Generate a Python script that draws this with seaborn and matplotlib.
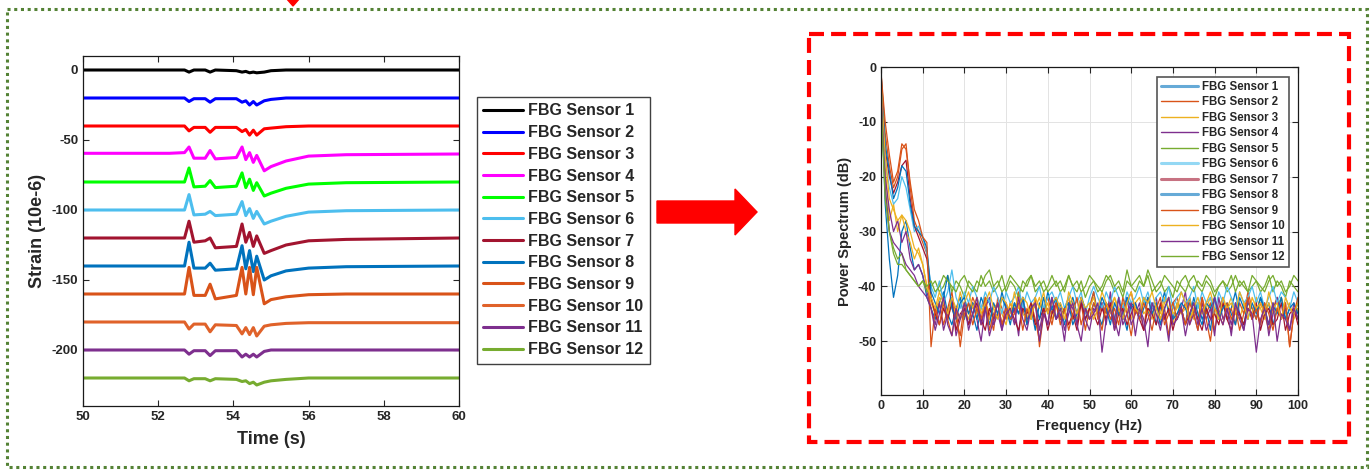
import numpy as np
import pandas as pd
import seaborn as sns
import matplotlib.pyplot as plt
from matplotlib.patches import Rectangle, Polygon
from matplotlib.lines import Line2D
import matplotlib.transforms as mtransforms

sns.set_style("ticks")
plt.rcParams['font.family'] = ['Liberation Sans', 'DejaVu Sans']
plt.rcParams['font.weight'] = 'bold'
plt.rcParams['axes.labelweight'] = 'bold'
plt.rcParams['axes.unicode_minus'] = False

W, H = 1370, 470

sensors = [f"FBG Sensor {i}" for i in range(1, 13)]

# ---- strain traces (10e-6), read at the turning points of each curve ----
time_s = [50.0, 52.3, 52.7, 52.82, 52.95, 53.25, 53.38, 53.52, 54.08, 54.23,
          54.33, 54.43, 54.53, 54.62, 54.82, 55.0, 55.4, 56.0, 57.0, 60.0]
strain_1 = [0, 0, 0, -1.5, 0, 0, -1.5, 0, -0.5, -1.5, -1, -2, -1.5, -2, -1.5, -0.5, 0, 0, 0, 0]
strain_2 = [-20, -20, -20, -22.5, -20.5, -20.5, -23, -20.5, -20.5, -23, -22, -25, -22.5, -25, -22, -21, -20, -20, -20, -20]
strain_3 = [-40, -40, -40, -43.5, -41, -41, -44.5, -41, -41, -44, -42.5, -46.5, -43, -46.5, -42, -41.5, -40.5, -40, -40, -40]
strain_4 = [-59.5, -59.5, -59, -55, -63, -63, -57.5, -63.5, -62.5, -55, -64, -59, -66, -61, -72, -69, -65, -61.5, -60.5, -60]
strain_5 = [-80, -80, -80, -70, -83.5, -83, -79, -84, -83, -73.5, -84, -78, -86, -80.5, -90, -88, -84.5, -81.5, -80.5, -80]
strain_6 = [-100, -100, -100, -89, -103.5, -103, -101, -104, -103, -94, -104, -99, -106, -101, -110, -108, -104.5, -101.5, -100.5, -100]
strain_7 = [-120, -120, -120, -108, -123, -122, -120, -127, -126, -110, -123, -116, -126, -118.5, -131, -129, -125, -122, -121, -120]
strain_8 = [-140, -140, -140, -123, -141.5, -141.5, -138, -143, -142, -125.5, -142, -129, -144, -133, -150, -147, -143.5, -141.5, -140.5, -140]
strain_9 = [-160, -160, -160, -141, -161, -161, -153, -163.5, -161, -141, -160, -141, -160.5, -141, -167, -164, -162, -160.5, -160, -160]
strain_10 = [-180, -180, -180, -185, -181.5, -181.5, -187, -182, -182.5, -188.5, -184, -189, -184, -190, -183, -182, -181, -180.5, -180.5, -180.5]
strain_11 = [-200, -200, -200, -203, -200.5, -200.5, -204, -200.5, -200.5, -205, -203, -205, -203, -205, -201, -200, -200, -200, -200, -200]
strain_12 = [-220, -220, -220, -222, -220.5, -220.5, -222, -220.5, -221, -222.5, -222, -224, -223, -225, -223, -222, -221, -220, -220, -220]
strains = [strain_1, strain_2, strain_3, strain_4, strain_5, strain_6,
           strain_7, strain_8, strain_9, strain_10, strain_11, strain_12]
strain_colors = ["#000000", "#0000FF", "#FF0000", "#FF00FF", "#00FF00", "#4DBEEE",
                 "#A2142F", "#0072BD", "#D95319", "#E0622A", "#7E2F8E", "#77AC30"]

# ---- power spectrum (dB), 1 Hz steps from 0 to 100 Hz ----
freq_hz = list(range(0, 101))
psd_1 = [-2, -25, -35, -42, -38, -30, -28, -33, -37, -36, -38, -42,
         -44, -46, -43, -41, -45, -47, -44, -42, -46, -43, -45, -48, -44, -42, -43, -46, -45, -41, -44, -47,
         -43, -45, -42, -46, -44, -48, -43, -45, -41, -44, -46, -43, -47, -44, -42, -45, -43, -46, -44, -41,
         -45, -47, -43, -44, -46, -42, -45, -48, -43, -44, -46, -42, -45, -43, -47, -44, -41, -45, -46, -43,
         -44, -47, -42, -45, -43, -46, -44, -48, -42, -45, -43, -46, -44, -41, -45, -47, -43, -44, -46, -42,
         -45, -43, -47, -44, -42, -46, -44, -45, -43]
psd_2 = [-1, -12, -18, -22, -20, -15, -14, -22, -28, -30, -32, -34,
         -42, -45, -43, -47, -44, -41, -46, -49, -43, -45, -42, -44, -47, -43, -45, -48, -42, -44, -46, -43,
         -45, -41, -44, -47, -43, -46, -50, -44, -42, -45, -43, -47, -44, -42, -46, -45, -43, -48, -44, -41,
         -46, -43, -45, -42, -47, -44, -46, -43, -41, -45, -44, -48, -42, -45, -43, -46, -44, -49, -43, -42,
         -45, -43, -47, -44, -46, -42, -45, -43, -48, -44, -42, -46, -44, -47, -43, -45, -41, -44, -46, -43,
         -45, -48, -44, -42, -46, -43, -51, -45, -44]
psd_3 = [-5, -18, -28, -25, -30, -27, -30, -32, -35, -33, -36, -40,
         -43, -45, -42, -44, -46, -43, -45, -41, -44, -46, -43, -45, -44, -42, -46, -44, -43, -45, -47, -43,
         -44, -42, -45, -46, -43, -44, -42, -45, -43, -46, -44, -43, -45, -42, -44, -46, -43, -45, -44, -42,
         -45, -43, -46, -44, -42, -45, -43, -44, -46, -43, -42, -45, -44, -46, -43, -45, -42, -44, -47, -43,
         -45, -44, -42, -46, -43, -45, -44, -42, -45, -46, -43, -44, -42, -45, -46, -43, -44, -45, -42, -44,
         -46, -43, -45, -44, -42, -45, -43, -46, -44]
psd_4 = [-2, -20, -26, -30, -28, -32, -30, -35, -37, -36, -38, -41,
         -44, -47, -43, -48, -45, -42, -49, -46, -44, -47, -43, -46, -50, -44, -42, -47, -45, -48, -43, -46,
         -44, -49, -42, -46, -45, -43, -48, -44, -47, -42, -46, -45, -50, -43, -44, -47, -42, -46, -48, -44,
         -45, -43, -47, -41, -46, -49, -44, -42, -47, -45, -43, -48, -46, -44, -42, -47, -45, -50, -43, -46,
         -44, -41, -47, -45, -48, -43, -46, -44, -49, -42, -46, -44, -47, -43, -45, -48, -42, -46, -44, -47,
         -43, -49, -45, -42, -46, -44, -48, -43, -46]
psd_5 = [-8, -22, -30, -33, -35, -34, -37, -38, -39, -40, -39, -41,
         -40, -39, -41, -40, -38, -41, -39, -40, -42, -39, -40, -41, -38, -40, -39, -41, -40, -38, -41, -39,
         -40, -42, -39, -40, -38, -41, -40, -39, -41, -40, -39, -41, -40, -38, -40, -41, -39, -42, -40, -39,
         -41, -40, -38, -39, -41, -40, -42, -39, -40, -41, -39, -40, -38, -41, -40, -39, -41, -40, -42, -39,
         -40, -41, -39, -38, -40, -41, -39, -40, -42, -40, -39, -41, -40, -38, -40, -39, -41, -40, -39, -41,
         -40, -38, -41, -39, -40, -42, -39, -40, -41]
psd_6 = [-3, -17, -22, -25, -24, -20, -22, -26, -30, -29, -31, -34,
         -40, -42, -39, -43, -41, -37, -42, -44, -41, -43, -40, -42, -44, -41, -43, -40, -42, -45, -41, -43,
         -42, -40, -44, -41, -43, -42, -40, -44, -42, -41, -43, -41, -44, -42, -40, -43, -41, -45, -42, -40,
         -42, -44, -41, -43, -40, -42, -44, -41, -43, -42, -40, -43, -41, -44, -42, -41, -43, -40, -44, -42,
         -41, -43, -42, -40, -44, -41, -43, -42, -45, -41, -43, -40, -42, -44, -41, -43, -42, -40, -43, -41,
         -44, -42, -40, -43, -41, -42, -44, -41, -43]
psd_7 = [-2, -15, -20, -23, -21, -18, -17, -24, -29, -31, -33, -35,
         -42, -45, -47, -44, -46, -43, -48, -45, -44, -47, -45, -43, -46, -48, -44, -46, -43, -47, -45, -44,
         -46, -48, -44, -45, -43, -47, -46, -44, -48, -45, -43, -46, -44, -47, -45, -48, -43, -46, -44, -45,
         -47, -44, -46, -43, -48, -45, -44, -47, -45, -43, -46, -48, -44, -45, -47, -43, -46, -44, -48, -45,
         -44, -47, -45, -43, -46, -48, -44, -46, -45, -47, -43, -46, -48, -44, -45, -47, -44, -46, -43, -48,
         -45, -44, -47, -46, -43, -48, -45, -44, -47]
psd_8 = [-1, -14, -19, -24, -22, -18, -19, -25, -29, -30, -31, -33,
         -41, -43, -45, -42, -38, -44, -46, -43, -42, -45, -43, -46, -42, -44, -47, -43, -45, -42, -44, -46,
         -43, -45, -42, -47, -44, -43, -46, -42, -45, -44, -42, -46, -44, -43, -47, -45, -42, -44, -46, -43,
         -45, -42, -44, -47, -43, -45, -46, -42, -44, -43, -46, -44, -42, -45, -43, -47, -44, -42, -46, -45,
         -43, -44, -46, -42, -45, -47, -43, -44, -42, -46, -44, -43, -45, -47, -42, -44, -46, -43, -45, -42,
         -44, -47, -43, -45, -42, -46, -44, -43, -45]
psd_9 = [-1, -10, -16, -21, -19, -14, -15, -21, -26, -28, -31, -32,
         -51, -44, -47, -43, -46, -49, -44, -51, -45, -43, -47, -44, -46, -42, -48, -45, -43, -47, -44, -46,
         -45, -43, -48, -44, -46, -42, -51, -45, -44, -47, -43, -46, -44, -48, -45, -42, -47, -44, -46, -43,
         -45, -48, -43, -46, -44, -47, -42, -45, -49, -44, -46, -43, -45, -48, -44, -42, -47, -45, -43, -46,
         -44, -47, -43, -45, -48, -42, -46, -50, -44, -45, -47, -43, -46, -44, -48, -45, -42, -46, -44, -47,
         -43, -45, -48, -44, -46, -43, -51, -45, -42]
psd_10 = [-3, -16, -24, -26, -28, -27, -28, -30, -33, -34, -36, -40,
          -42, -44, -41, -43, -45, -42, -44, -46, -43, -41, -44, -42, -45, -43, -41, -44, -46, -42, -43, -45,
          -41, -44, -42, -43, -46, -42, -44, -41, -45, -43, -42, -44, -46, -41, -43, -45, -42, -44, -43, -46,
          -44, -41, -43, -45, -42, -44, -46, -43, -41, -44, -45, -42, -43, -41, -44, -46, -43, -42, -45, -44,
          -41, -43, -46, -44, -42, -45, -43, -41, -44, -46, -42, -44, -43, -45, -41, -43, -46, -42, -44, -43,
          -45, -41, -44, -43, -46, -42, -44, -45, -43]
psd_11 = [-4, -22, -30, -32, -33, -34, -36, -37, -38, -40, -41, -42,
          -44, -48, -45, -42, -47, -49, -44, -46, -43, -48, -45, -42, -47, -44, -49, -46, -43, -48, -45, -44,
          -47, -42, -46, -48, -44, -43, -50, -45, -47, -42, -46, -44, -48, -45, -43, -47, -50, -44, -46, -45,
          -43, -52, -46, -44, -48, -42, -47, -45, -43, -49, -44, -46, -51, -43, -45, -48, -44, -42, -47, -46,
          -44, -49, -45, -43, -47, -44, -48, -46, -42, -45, -47, -44, -49, -43, -46, -48, -44, -45, -52, -46,
          -44, -47, -43, -50, -45, -46, -48, -44, -46]
psd_12 = [-6, -24, -30, -34, -36, -36, -37, -38, -39, -40, -39, -40,
          -39, -41, -40, -38, -39, -40, -41, -39, -38, -40, -41, -39, -40, -38, -37, -40, -39, -41, -40, -38,
          -39, -40, -41, -39, -38, -40, -39, -41, -40, -38, -40, -39, -41, -38, -40, -39, -41, -40, -38, -39,
          -40, -41, -39, -38, -40, -39, -41, -37, -40, -39, -38, -40, -37, -39, -41, -40, -38, -39, -40, -41,
          -39, -38, -40, -41, -39, -40, -38, -39, -41, -40, -39, -40, -38, -41, -39, -40, -41, -38, -39, -40,
          -41, -39, -38, -40, -39, -41, -40, -38, -39]
psds = [psd_1, psd_2, psd_3, psd_4, psd_5, psd_6,
        psd_7, psd_8, psd_9, psd_10, psd_11, psd_12]
psd_colors = ["#0072BD", "#D95319", "#EDB120", "#7E2F8E", "#77AC30", "#4DBEEE",
              "#A2142F", "#0072BD", "#D95319", "#EDB120", "#7E2F8E", "#77AC30"]

# long-form tables for seaborn
strain_df = pd.DataFrame({
    "Time": time_s * len(sensors),
    "Strain": sum(strains, []),
    "Sensor": np.repeat(sensors, len(time_s)),
})
psd_df = pd.DataFrame({
    "Frequency": freq_hz * len(sensors),
    "Power": sum(psds, []),
    "Sensor": np.repeat(sensors, len(freq_hz)),
})

fig = plt.figure(figsize=(W / 100, H / 100), dpi=100)

# pixel (from top-left) -> figure fraction helpers
def fx(px):
    return px / W

def fy(py):
    return 1 - py / H

ax1 = fig.add_axes([fx(83), fy(406), fx(459) - fx(83), fy(56) - fy(406)])
ax2 = fig.add_axes([fx(881), fy(395), fx(1298) - fx(881), fy(67) - fy(395)])

# left: strain traces
sns.lineplot(data=strain_df, x="Time", y="Strain", hue="Sensor", hue_order=sensors,
             palette=dict(zip(sensors, strain_colors)), linewidth=2.2,
             estimator=None, sort=False, legend=False, ax=ax1)
ax1.set_xlim(50, 60)
ax1.set_ylim(-240, 10)
ax1.set_xticks([50, 52, 54, 56, 58, 60])
ax1.set_yticks([0, -50, -100, -150, -200])
ax1.set_xlabel("Time (s)", fontsize=13, color="#262626", labelpad=6)
ax1.set_ylabel("Strain (10e-6)", fontsize=13, color="#262626", labelpad=4)

# right: power spectrum
sns.lineplot(data=psd_df, x="Frequency", y="Power", hue="Sensor", hue_order=sensors,
             palette=dict(zip(sensors, psd_colors)), linewidth=0.9,
             estimator=None, sort=False, legend=False, ax=ax2)
ax2.set_xlim(0, 100)
ax2.set_ylim(-59.8, 0)
ax2.set_xticks(range(0, 101, 10))
ax2.set_yticks([0, -10, -20, -30, -40, -50])
ax2.grid(True, color="#e3e3e3", linewidth=0.7)
ax2.set_axisbelow(True)
ax2.set_xlabel("Frequency (Hz)", fontsize=10.5, color="#262626", labelpad=5)
ax2.set_ylabel("Power Spectrum (dB)", fontsize=10.5, color="#262626", labelpad=4)

for ax, fs in [(ax1, 9.5), (ax2, 9)]:
    ax.tick_params(direction="in", top=True, right=True, length=4, width=0.8,
                   labelsize=fs, colors="#262626")
    for lab in ax.get_xticklabels() + ax.get_yticklabels():
        lab.set_fontweight("bold")
    for sp in ax.spines.values():
        sp.set_visible(True)
        sp.set_color("#1a1a1a")
        sp.set_linewidth(0.9)

# legends
left_handles = [Line2D([], [], color=c, lw=2.2) for c in strain_colors]
fig.legend(left_handles, sensors, loc="upper left", bbox_to_anchor=(fx(477), fy(97)),
           bbox_transform=fig.transFigure, fontsize=11.5, frameon=True, fancybox=False,
           edgecolor="#404040", framealpha=1, handlelength=2.5, handletextpad=0.3,
           labelspacing=0.42, borderpad=0.4, borderaxespad=0)

right_handles = [Line2D([], [], color=c, lw=1) for c in psd_colors]
for i in [0, 5, 6, 7]:
    right_handles[i].set_linewidth(2.2)
    right_handles[i].set_alpha(0.6)
leg2 = ax2.legend(right_handles, sensors, loc="upper right", bbox_to_anchor=(fx(1289), fy(77)),
                  bbox_transform=fig.transFigure, fontsize=8.3, frameon=True, fancybox=False,
                  edgecolor="#555555", framealpha=1, handlelength=3.2, handletextpad=0.4,
                  labelspacing=0.3, borderpad=0.35, borderaxespad=0)
leg2.get_frame().set_linewidth(1.2)

# decorations, in pixel coordinates from the top-left corner
pix = mtransforms.Affine2D().scale(1, -1).translate(0, H).scale(1 / 100) + fig.dpi_scale_trans

fig.patches.append(Rectangle((7, 9), 1360, 458, fill=False, edgecolor="#548235",
                             lw=2.2, linestyle=(0, (1, 1.2)), transform=pix, figure=fig))
fig.patches.append(Rectangle((809, 34), 540, 408, fill=False, edgecolor="#FF0000",
                             lw=3, linestyle=(0, (3.6, 1.7)), transform=pix, figure=fig))
fig.patches.append(Polygon([(657, 201), (735, 201), (735, 189), (757, 212), (735, 235),
                            (735, 223), (657, 223)], closed=True, color="#FF0000",
                           transform=pix, figure=fig))
fig.patches.append(Polygon([(286, -2), (300, -2), (293, 6)], closed=True, color="#FF0000",
                           transform=pix, figure=fig))

fig.savefig("out.png", dpi=100)
